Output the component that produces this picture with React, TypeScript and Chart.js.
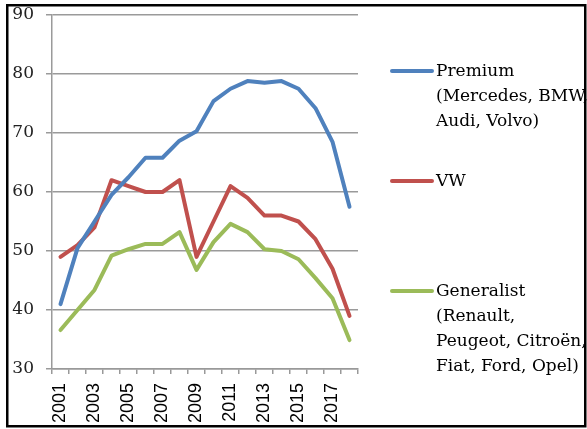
import React, { useEffect, useRef } from "react";
import { Chart, registerables } from "chart.js";

Chart.register(...registerables);

const years = ["2001","2002","2003","2004","2005","2006","2007","2008","2009","2010","2011","2012","2013","2014","2015","2016","2017","2018"];
const premium = [41, 50.5, 55, 59.5, 62.5, 65.8, 65.8, 68.7, 70.3, 75.4, 77.5, 78.8, 78.5, 78.8, 77.5, 74.2, 68.5, 57.5];
const vw = [49, 51, 54, 62, 61, 60, 60, 62, 49, 55, 61, 59, 56, 56, 55, 52, 47, 39];
const generalist = [36.6, 40, 43.4, 49.2, 50.3, 51.2, 51.2, 53.2, 46.8, 51.5, 54.6, 53.2, 50.3, 50, 48.6, 45.4, 42, 34.9];
const legendLines = [
  ["Premium", "(Mercedes, BMW,", "Audi, Volvo)"],
  ["VW"],
  ["Generalist", "(Renault,", "Peugeot, Citroën,", "Fiat, Ford, Opel)"],
];
const colors = ["#4F81BD", "#C0504D", "#9BBB59"];

const overlay = {
  id: "overlay",
  afterDraw(chart: any) {
    const ctx = chart.ctx;
    ctx.save();
    const area = chart.chartArea;
    const sampleX0 = area.right + 34;
    const sampleX1 = sampleX0 + 40;
    const textX = sampleX1 + 4;
    const starts = [area.top + 56, area.top + 166, area.top + 276];
    ctx.font = "17px 'DejaVu Serif'";
    ctx.textBaseline = "middle";
    ctx.textAlign = "left";
    legendLines.forEach((lines, i) => {
      const y = starts[i];
      ctx.strokeStyle = colors[i];
      ctx.lineWidth = 4;
      ctx.lineCap = "round";
      ctx.beginPath();
      ctx.moveTo(sampleX0, y);
      ctx.lineTo(sampleX1, y);
      ctx.stroke();
      ctx.fillStyle = "#000";
      lines.forEach((t, j) => ctx.fillText(t, textX, y + 1 + j * 25));
    });
    ctx.strokeStyle = "#000";
    ctx.lineWidth = 2.5;
    ctx.lineCap = "butt";
    ctx.strokeRect(7.25, 5.25, 578, 421);
    ctx.restore();
  },
};

export default function App() {
  const ref = useRef<HTMLCanvasElement>(null);
  useEffect(() => {
    const mk = (label: string, data: number[], c: string) => ({
      label, data, borderColor: c, backgroundColor: c, borderWidth: 4,
      pointRadius: 0, tension: 0, borderCapStyle: "round", borderJoinStyle: "round",
    });
    const chart = new Chart(ref.current!, {
      type: "line",
      data: {
        labels: years,
        datasets: [
          mk("Premium", premium, colors[0]),
          mk("VW", vw, colors[1]),
          mk("Generalist", generalist, colors[2]),
        ],
      },
      options: {
        animation: false,
        responsive: false,
        layout: { padding: { left: 0, top: 15, right: 229, bottom: 0 } },
        plugins: { legend: { display: false }, tooltip: { enabled: false } },
        scales: {
          x: {
            offset: true,
            grid: { offset: true, drawOnChartArea: false, drawTicks: true, tickLength: 5, color: "#999", lineWidth: 1.5 },
            border: { display: true, color: "#999", width: 1.5 },
            ticks: {
              autoSkip: false, minRotation: 90, maxRotation: 90, padding: 9,
              color: "#000", font: { family: "'Liberation Sans'", size: 18 },
              callback: (_v: any, i: number) => (i % 2 === 0 ? years[i] : ""),
            },
            afterFit: (s: any) => { s.height = 60; s.paddingLeft = 0; s.paddingRight = 0; },
          },
          y: {
            min: 30, max: 90,
            ticks: { stepSize: 10, padding: 12, color: "#222", font: { family: "'DejaVu Serif'", size: 17 } },
            grid: { color: "#9a9a9a", lineWidth: 1.5, tickLength: 6 },
            border: { display: true, color: "#9a9a9a", width: 1.5 },
            afterFit: (s: any) => { s.width = 52; s.paddingTop = 0; s.paddingBottom = 0; },
          },
        },
      },
      plugins: [overlay],
    } as any);
    return () => chart.destroy();
  }, []);
  return (
    <div style={{ position: "fixed", left: 0, top: 0, width: 587, height: 429, background: "#fff" }}>
      <canvas ref={ref} width={587} height={429} style={{ display: "block" }} />
    </div>
  );
}
